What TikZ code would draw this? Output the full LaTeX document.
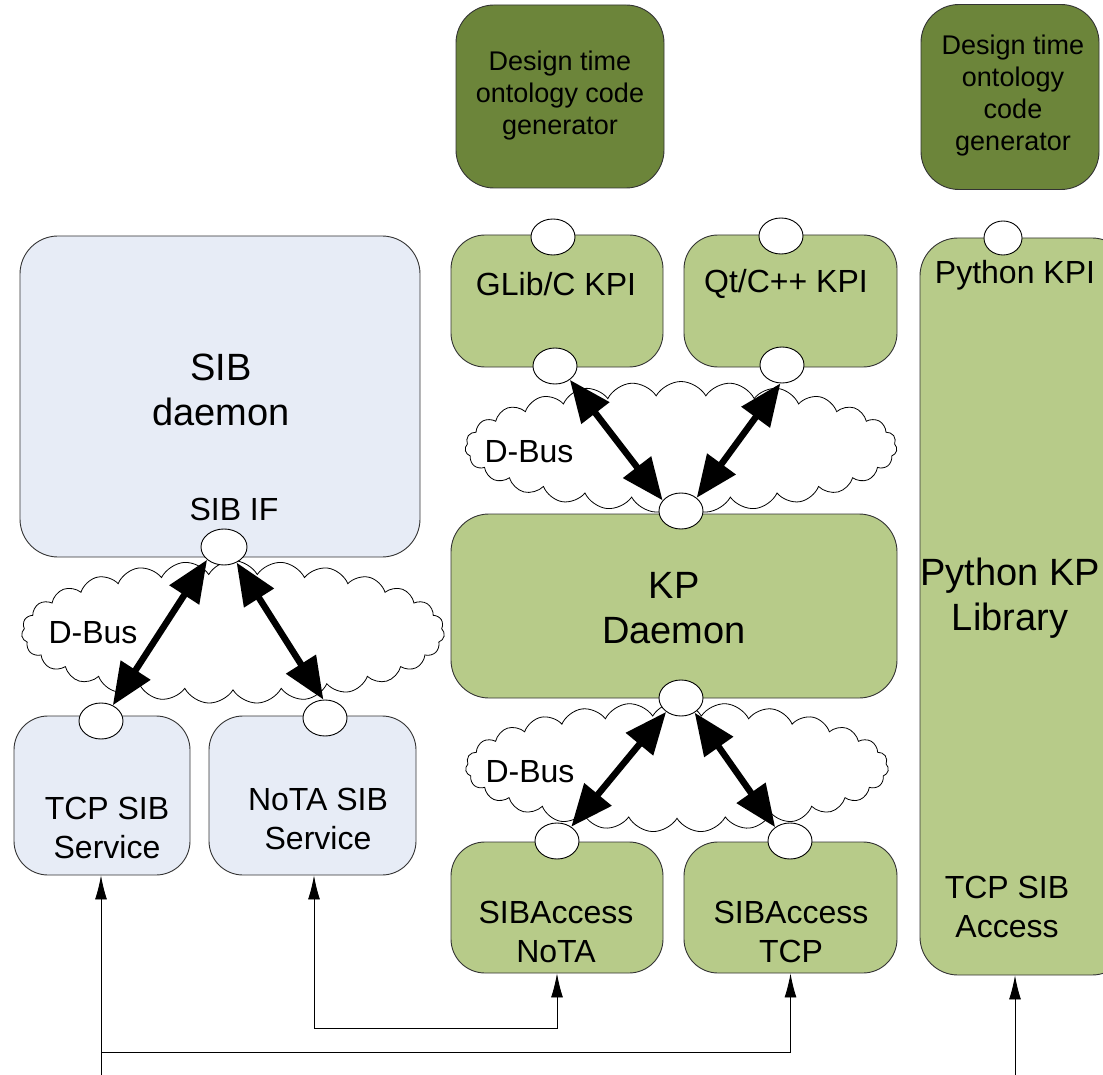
\documentclass[tikz,border=0pt]{standalone}
\usepackage{fontspec}
\setmainfont{Liberation Sans}
\usetikzlibrary{shapes.symbols,shapes.geometric,arrows.meta}
\definecolor{lgreen}{RGB}{183,203,137}
\definecolor{dgreen}{RGB}{108,133,58}
\definecolor{lblue}{RGB}{231,236,246}
\tikzset{
  box/.style={draw=black!80,line width=0.9pt,rounded corners=38pt,inner sep=0pt},
  gbox/.style={box,fill=lgreen},
  bbox/.style={box,fill=lblue},
  dbox/.style={box,fill=dgreen},
  port/.style={ellipse,draw=black,line width=0.9pt,fill=white,minimum width=44pt,minimum height=36pt,inner sep=0pt},
  bus/.style={cloud,cloud puffs=27,cloud puff arc=120,cloud ignores aspect,draw=black,line width=0.8pt,fill=white,inner sep=0pt},
  dbl/.style={line width=6.5pt,{Triangle[length=42pt,width=34pt]}-{Triangle[length=42pt,width=34pt]}},
  thinarr/.style={line width=0.9pt,-{Latex[length=24pt,width=12pt]}},
  fs/.style={font=\fontsize{27}{32}\selectfont,align=center},
  fm/.style={font=\fontsize{32}{39}\selectfont,align=center},
  fl/.style={font=\fontsize{38}{45}\selectfont,align=center},
}
\begin{document}
\begin{tikzpicture}[x=1pt,y=-1pt]
\useasboundingbox (0,0) rectangle (1103,1075);
\clip (0,0) rectangle (1103,1075);
% clouds
\node[bus,minimum width=423pt,minimum height=143pt] (c1) at (233,632) {};
\node[bus,minimum width=432pt,minimum height=131pt] (c2) at (681,447) {};
\node[bus,minimum width=423pt,minimum height=130pt] (c3) at (677,767) {};
% boxes
\node[dbox,minimum width=208pt,minimum height=183pt] (dt1) at (560,96.5) {};
\node[dbox,minimum width=178pt,minimum height=185pt] (dt2) at (1010,97) {};
\node[bbox,minimum width=400pt,minimum height=321pt] (sib) at (220,396.5) {};
\node[bbox,minimum width=176pt,minimum height=159pt,rounded corners=34pt] (tcps) at (102,795.5) {};
\node[bbox,minimum width=207pt,minimum height=159pt,rounded corners=34pt] (notas) at (312.5,795.5) {};
\node[gbox,minimum width=212pt,minimum height=132pt,rounded corners=34pt] (glib) at (557,301) {};
\node[gbox,minimum width=213pt,minimum height=132pt,rounded corners=34pt] (qt) at (790.5,301) {};
\node[gbox,minimum width=446pt,minimum height=184pt] (kpd) at (674,606) {};
\node[gbox,minimum width=212pt,minimum height=131pt,rounded corners=34pt] (sanota) at (557,907.5) {};
\node[gbox,minimum width=213pt,minimum height=131pt,rounded corners=34pt] (satcp) at (790.5,907.5) {};
\node[gbox,minimum width=210pt,minimum height=737pt] (py) at (1025,606.5) {};
% texts
\node[fs] (t1) at (560,96) {Design time\\ontology code\\generator};
\node[fs] (t2) at (1013,96) {Design time\\ontology\\code\\generator};
\node[fl] (t3) at (221,390) {SIB\\daemon};
\node[fm] (t4) at (234,509) {SIB IF};
\node[fm] (t5) at (93,633) {D-Bus};
\node[fm] (t6) at (529,452) {D-Bus};
\node[fm] (t7) at (530,772) {D-Bus};
\node[fm] (t8) at (107,828) {TCP SIB\\Service};
\node[fm] (t9) at (318,819) {NoTA SIB\\Service};
\node[fm] (t10) at (556,284) {GLib/C KPI};
\node[fm] (t11) at (786,284) {Qt/C++ KPI};
\node[fl] (t12) at (674,608) {KP\\Daemon};
\node[fm] (t13) at (556,932) {SIBAccess\\NoTA};
\node[fm] (t14) at (791,932) {SIBAccess\\TCP};
\node[fm] (t15) at (1015,275) {Python KPI};
\node[fl] (t16) at (1010,598) {Python KP\\Library};
\node[fm] (t17) at (1007,907) {TCP SIB\\Access};
% ports
\node[port,minimum width=46pt] (sibif) at (224,547) {};
\node[port] (tcpe) at (101,721) {};
\node[port] (notae) at (325,718) {};
\node[port] (glibt) at (553,237) {};
\node[port] (glibb) at (555,366) {};
\node[port] (qtt) at (781,236) {};
\node[port] (qtb) at (782,365) {};
\node[port] (kpt) at (681,511) {};
\node[port] (kpb) at (681,698) {};
\node[port] (sane) at (557,841) {};
\node[port] (sate) at (790,841) {};
\node[port,minimum width=38pt,minimum height=34pt] (pye) at (1003,238) {};
% D-Bus arrows
\draw[dbl] (sibif.217) -- (tcpe.53);
\draw[dbl] (sibif.309) -- (notae.95);
\draw[dbl] (glibb.317) -- (kpt.150);
\draw[dbl] (qtb.265) -- (kpt.40);
\draw[dbl] (kpb.223) -- (sane.45);
\draw[dbl] (kpb.313) -- (sate.137);
% bottom connectors
\coordinate (b1) at (101,1075);
\coordinate (j1) at (101,1052);
\coordinate (n1) at (314,1028);
\coordinate (p1) at (1015,1075);
\draw[thinarr] (b1) -- (b1 |- tcps.south);
\draw[thinarr] (j1) -| (satcp.south);
\draw[thinarr,{Latex[length=24pt,width=12pt]}-{Latex[length=24pt,width=12pt]}] (n1 |- notas.south) -- (n1) -| (sanota.south);
\draw[thinarr] (p1) -- (p1 |- py.south);
\end{tikzpicture}
\end{document}
